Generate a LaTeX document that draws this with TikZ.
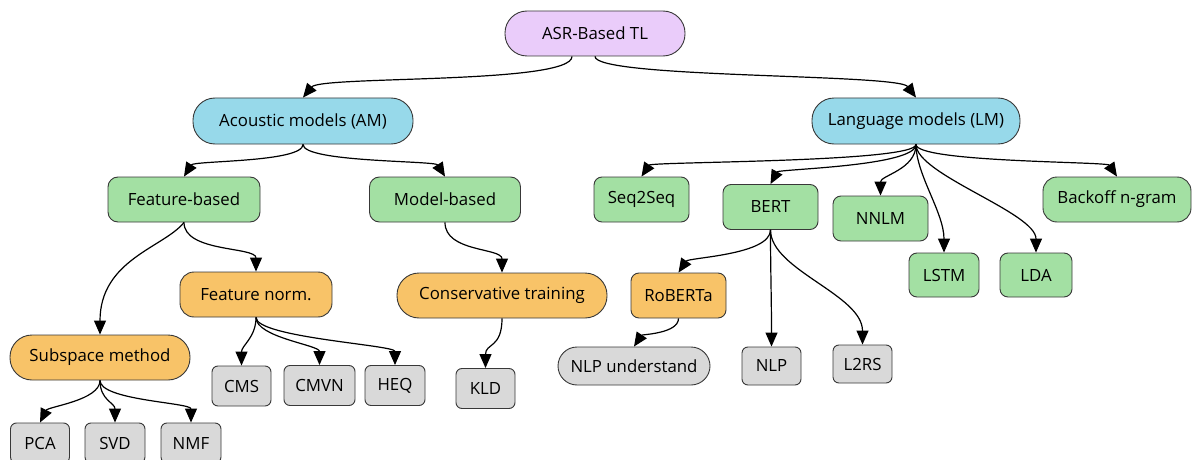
\documentclass[tikz,border=0pt]{standalone}
\usepackage{fontspec}
\setmainfont{Open Sans}
\usetikzlibrary{arrows.meta}
\definecolor{cpurple}{HTML}{EACCFA}
\definecolor{cblue}{HTML}{97D9EA}
\definecolor{cgreen}{HTML}{A3E0A3}
\definecolor{corange}{HTML}{F8C368}
\definecolor{cgray}{HTML}{D9D9D9}
\definecolor{cline}{HTML}{383838}
\begin{document}
\begin{tikzpicture}[x=1pt,y=-1pt,
  box/.style={draw=cline, line width=0.9pt, inner sep=0pt, text=black,
    font=\fontsize{16.8}{20}\selectfont},
  rootbox/.style={box, fill=cpurple},
  modelbox/.style={box, fill=cblue},
  catbox/.style={box, fill=cgreen},
  subbox/.style={box, fill=corange},
  leafbox/.style={box, fill=cgray},
  arr/.style={draw=black, line width=1.2pt, -{Triangle[length=14pt,width=12pt]}}
]
\useasboundingbox (0,0) rectangle (1192,460);

% root and the two model families
\node[rootbox, minimum width=180pt, minimum height=45pt, rounded corners=22pt] (asr) at (595,33.5) {ASR-Based TL};
\node[modelbox, minimum width=220pt, minimum height=46pt, rounded corners=22pt] (am) at (303,121) {Acoustic models (AM)};
\node[modelbox, minimum width=208pt, minimum height=46pt, rounded corners=22pt] (lm) at (916,121) {Language models (LM)};

% acoustic model branch
\node[catbox, minimum width=152pt, minimum height=45pt, rounded corners=10pt] (feat) at (184,199.5) {Feature-based};
\node[catbox, minimum width=151pt, minimum height=45pt, rounded corners=10pt] (model) at (445,199.5) {Model-based};
\node[subbox, minimum width=180pt, minimum height=45pt, rounded corners=22pt] (subsp) at (100,357.5) {Subspace method};
\node[subbox, minimum width=152pt, minimum height=45pt, rounded corners=14pt] (fnorm) at (256,294.5) {Feature norm.};
\node[subbox, minimum width=210pt, minimum height=45pt, rounded corners=22pt] (cons) at (502,295.5) {Conservative training};
\node[leafbox, minimum width=59pt, minimum height=40pt, rounded corners=6pt] (pca) at (40,443) {PCA};
\node[leafbox, minimum width=60pt, minimum height=40pt, rounded corners=6pt] (svd) at (115,443) {SVD};
\node[leafbox, minimum width=60pt, minimum height=40pt, rounded corners=6pt] (nmf) at (191,443) {NMF};
\node[leafbox, minimum width=59pt, minimum height=40pt, rounded corners=6pt] (cms) at (241.5,386) {CMS};
\node[leafbox, minimum width=71pt, minimum height=40pt, rounded corners=6pt] (cmvn) at (319.5,385.5) {CMVN};
\node[leafbox, minimum width=60pt, minimum height=40pt, rounded corners=6pt] (heq) at (395,385.5) {HEQ};
\node[leafbox, minimum width=59pt, minimum height=40pt, rounded corners=6pt] (kld) at (485.5,388.5) {KLD};

% language model branch
\node[catbox, minimum width=95pt, minimum height=45pt, rounded corners=8pt] (s2s) at (641.5,199.5) {Seq2Seq};
\node[catbox, minimum width=95pt, minimum height=45pt, rounded corners=8pt] (bert) at (770.5,207) {BERT};
\node[catbox, minimum width=95pt, minimum height=45pt, rounded corners=8pt] (nnlm) at (880.5,218.5) {NNLM};
\node[catbox, minimum width=70pt, minimum height=44pt, rounded corners=8pt] (lstm) at (944,275) {LSTM};
\node[catbox, minimum width=72pt, minimum height=44pt, rounded corners=8pt] (lda) at (1036,275) {LDA};
\node[catbox, minimum width=148pt, minimum height=45pt, rounded corners=14pt] (back) at (1117,199.5) {Backoff n-gram};
\node[subbox, minimum width=95pt, minimum height=45pt, rounded corners=8pt] (rob) at (678.5,295.5) {RoBERTa};
\node[leafbox, minimum width=152pt, minimum height=38pt, rounded corners=19pt] (nlpu) at (634,366) {NLP understand};
\node[leafbox, minimum width=59pt, minimum height=38pt, rounded corners=6pt] (nlp) at (771.5,366) {NLP};
\node[leafbox, minimum width=59pt, minimum height=38pt, rounded corners=6pt] (l2rs) at (862.5,364) {L2RS};

% connectors
\draw[arr] ([xshift=-23pt]asr.south) .. controls +(0,28) and +(18,-22) .. (am.north);
\draw[arr] (asr.south) .. controls +(0,22) and +(-18,-24) .. (lm.north);

\draw[arr] (am.south) .. controls +(0,18) and +(10,-16) .. (feat.north);
\draw[arr] (am.south) .. controls +(0,18) and +(-10,-16) .. (model.north);

\draw[arr] (feat.south) .. controls +(-20,25) and +(0,-75) .. (subsp.north);
\draw[arr] (feat.south) .. controls +(0,30) and +(0,-25) .. (fnorm.north);
\draw[arr] (model.south) .. controls +(0,30) and +(0,-25) .. (cons.north);

\draw[arr] (subsp.south) .. controls +(0,20) and +(8,-16) .. (pca.north);
\draw[arr] (subsp.south) .. controls +(0,20) and +(0,-20) .. (svd.north);
\draw[arr] (subsp.south) .. controls +(0,20) and +(0,-20) .. (nmf.north);

\draw[arr] (fnorm.south) .. controls +(0,20) and +(0,-20) .. (cms.north);
\draw[arr] (fnorm.south) .. controls +(0,20) and +(0,-20) .. (cmvn.north);
\draw[arr] (fnorm.south) .. controls +(0,20) and +(0,-20) .. (heq.north);
\draw[arr] (cons.south) .. controls +(0,30) and +(0,-25) .. (kld.north);

\draw[arr] (lm.south) .. controls +(0,18) and +(10,-15) .. (s2s.north);
\draw[arr] (lm.south) .. controls +(0,22) and +(8,-15) .. (bert.north);
\draw[arr] (lm.south) .. controls +(0,25) and +(0,-20) .. (nnlm.north);
\draw[arr] (lm.south) .. controls +(0,30) and +(0,-40) .. (lstm.north);
\draw[arr] (lm.south) .. controls +(0,30) and +(0,-40) .. (lda.north);
\draw[arr] (lm.south) .. controls +(0,18) and +(-10,-15) .. (back.north);

\draw[arr] (bert.south) .. controls +(0,25) and +(10,-15) .. (rob.north);
\draw[arr] (bert.south) .. controls +(0,40) and +(0,-50) .. (nlp.north);
\draw[arr] (bert.south) .. controls +(0,40) and +(0,-50) .. (l2rs.north);
\draw[arr] (rob.south) .. controls +(0,15) and +(8,-12) .. (nlpu.north);
\end{tikzpicture}
\end{document}
